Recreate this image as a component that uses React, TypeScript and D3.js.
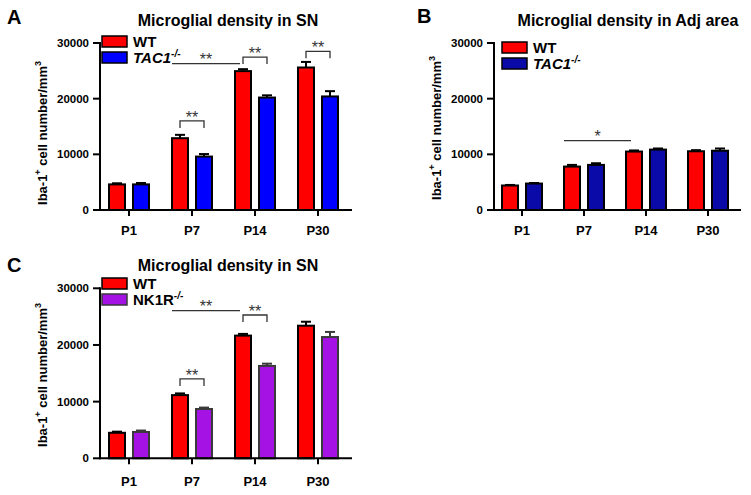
import React from "react";
import * as d3 from "d3";

const categories = ["P1", "P7", "P14", "P30"];
const yTicks = [0, 10000, 20000, 30000];

const wtA = [4600, 12900, 24950, 25600];
const wtAErr = [200, 600, 350, 1000];
const koA = [4600, 9600, 20200, 20400];
const koAErr = [250, 450, 400, 950];

const wtB = [4400, 7800, 10500, 10550];
const wtBErr = [100, 300, 200, 200];
const koB = [4750, 8100, 10850, 10650];
const koBErr = [100, 300, 200, 400];

const wtC = [4500, 11150, 21650, 23400];
const wtCErr = [200, 300, 300, 700];
const koC = [4650, 8700, 16300, 21400];
const koCErr = [250, 250, 400, 900];

// significance annotations: [category(from), category(to), y value, label]
const sigLinesA = [["P7", "P14", 26280, "**"]];
const bracketsA = [["P7", 16000, "**"], ["P14", 27480, "**"], ["P30", 28510, "**"]];
const sigLinesB = [["P7", "P14", 12450, "*"]];
const bracketsB: any[] = [];
const sigLinesC = [["P7", "P14", 26050, "**"]];
const bracketsC = [["P7", 14000, "**"], ["P14", 25290, "**"]];

const FONT = "'Liberation Sans', Arial, Helvetica, sans-serif";

type PanelProps = {
  letter: string;
  letterX: number;
  letterY: number;
  title: string;
  titleX: number;
  titleY: number;
  axisX: number;
  axisEnd: number;
  bandRange: [number, number];
  y0: number;
  yTop: number;
  wt: number[];
  wtErr: number[];
  ko: number[];
  koErr: number[];
  koColor: string;
  koStroke: string;
  koLabel: string;
  koItalic: boolean;
  legendX: number;
  legendY: number;
  ylabelX: number;
  ylabelY: number;
  xLabelY: number;
  sigLines: any[];
  brackets: any[];
};

function Panel(p: PanelProps) {
  const x = d3.scaleBand<string>().domain(categories).range(p.bandRange);
  const y = d3.scaleLinear().domain([0, 30000]).range([p.y0, p.yTop]);
  const c = (k: string) => (x(k) as number) + x.bandwidth() / 2;
  const off = 12;
  const bw = 16;
  const series = [
    { vals: p.wt, errs: p.wtErr, fill: "#ff0000", stroke: "#000", dx: -off },
    { vals: p.ko, errs: p.koErr, fill: p.koColor, stroke: p.koStroke, dx: off },
  ];
  return (
    <g>
      <text x={p.letterX} y={p.letterY} fontSize={20} fontWeight="bold" fontFamily={FONT}>
        {p.letter}
      </text>
      <text x={p.titleX} y={p.titleY} fontSize={16} fontWeight="bold" textAnchor="middle" fontFamily={FONT}>
        {p.title}
      </text>
      {/* bars */}
      {series.map((s, si) =>
        categories.map((cat, i) => {
          const cx = c(cat) + s.dx;
          const top = y(s.vals[i]);
          const et = y(s.vals[i] + s.errs[i]);
          return (
            <g key={si + "-" + i}>
              <line x1={cx} x2={cx} y1={top} y2={et} stroke={s.stroke} strokeWidth={2} />
              <line x1={cx - 5} x2={cx + 5} y1={et} y2={et} stroke={s.stroke} strokeWidth={2} />
              <rect x={cx - bw / 2} y={top} width={bw} height={p.y0 - top} fill={s.fill} stroke={s.stroke} strokeWidth={2} />
            </g>
          );
        })
      )}
      {/* y axis */}
      <line x1={p.axisX} x2={p.axisX} y1={y(30000) - 1} y2={p.y0 + 1} stroke="#000" strokeWidth={2} />
      {yTicks.map((t) => (
        <g key={t}>
          <line x1={p.axisX - 7} x2={p.axisX} y1={y(t)} y2={y(t)} stroke="#000" strokeWidth={2} />
          <text x={p.axisX - 11} y={y(t) + 4} fontSize={11.5} fontWeight="bold" textAnchor="end" fontFamily={FONT}>
            {t}
          </text>
        </g>
      ))}
      {/* x axis */}
      <line x1={p.axisX - 1} x2={p.axisEnd} y1={p.y0} y2={p.y0} stroke="#000" strokeWidth={2} />
      {categories.map((cat) => (
        <g key={cat}>
          <line x1={c(cat)} x2={c(cat)} y1={p.y0} y2={p.y0 + 6} stroke="#000" strokeWidth={2} />
          <text x={c(cat)} y={p.xLabelY} fontSize={13} fontWeight="bold" textAnchor="middle" fontFamily={FONT}>
            {cat}
          </text>
        </g>
      ))}
      {/* y label */}
      <text
        transform={`translate(${p.ylabelX},${p.ylabelY}) rotate(-90)`}
        fontSize={13}
        fontWeight="bold"
        textAnchor="middle"
        fontFamily={FONT}
      >
        Iba-1
        <tspan fontSize={9} dy={-6}>+</tspan>
        <tspan dy={6}> cell number/mm</tspan>
        <tspan fontSize={9} dy={-6}>3</tspan>
      </text>
      {/* legend */}
      <rect x={p.legendX} y={p.legendY} width={25} height={11} fill="#ff0000" stroke="#000" strokeWidth={1.5} />
      <rect x={p.legendX} y={p.legendY + 16} width={25} height={11} fill={p.koColor} stroke={p.koStroke} strokeWidth={1.5} />
      <text x={p.legendX + 31} y={p.legendY + 11} fontSize={15} fontWeight="bold" fontFamily={FONT}>
        WT
      </text>
      <text x={p.legendX + 31} y={p.legendY + 27} fontSize={15} fontWeight="bold" fontFamily={FONT} fontStyle={p.koItalic ? "italic" : "normal"}>
        {p.koLabel}
        <tspan fontSize={10} dy={-6} fontStyle="italic">-/-</tspan>
      </text>
      {/* significance */}
      {p.sigLines.map((s, i) => {
        const x1 = c(s[0]) - off - 8;
        const x2 = c(s[1]) - off - 3;
        const yy = y(s[2]);
        return (
          <g key={"l" + i}>
            <line x1={x1} x2={x2} y1={yy} y2={yy} stroke="#333" strokeWidth={1.3} />
            <text x={(x1 + x2) / 2} y={yy + 1} fontSize={16} textAnchor="middle" fill="#333" fontFamily={FONT}>
              {s[3]}
            </text>
          </g>
        );
      })}
      {p.brackets.map((s, i) => {
        const x1 = c(s[0]) - off;
        const x2 = c(s[0]) + off;
        const yy = y(s[1]);
        return (
          <g key={"b" + i}>
            <path d={`M${x1},${yy + 7}V${yy}H${x2}V${yy + 7}`} fill="none" stroke="#333" strokeWidth={1.3} />
            <text x={(x1 + x2) / 2} y={yy + 2} fontSize={16} textAnchor="middle" fill="#333" fontFamily={FONT}>
              {s[2]}
            </text>
          </g>
        );
      })}
    </g>
  );
}

export default function App() {
  return (
    <div style={{ position: "absolute", left: 0, top: 0 }}>
      <svg width={751} height={495} style={{ display: "block", background: "#fff" }}>
        <Panel
          letter="A" letterX={7} letterY={24}
          title="Microglial density in SN" titleX={228} titleY={26}
          axisX={100} axisEnd={352} bandRange={[97.5, 349.5]} y0={210} yTop={43}
          wt={wtA} wtErr={wtAErr} ko={koA} koErr={koAErr}
          koColor="#0000ff" koStroke="#000" koLabel="TAC1" koItalic={true}
          legendX={102} legendY={36}
          ylabelX={47} ylabelY={133} xLabelY={235}
          sigLines={sigLinesA} brackets={bracketsA}
        />
        <Panel
          letter="B" letterX={417} letterY={23}
          title="Microglial density in Adj area" titleX={628} titleY={26}
          axisX={494} axisEnd={741} bandRange={[491, 739]} y0={210} yTop={43}
          wt={wtB} wtErr={wtBErr} ko={koB} koErr={koBErr}
          koColor="#0a0aa8" koStroke="#000" koLabel="TAC1" koItalic={true}
          legendX={502} legendY={42}
          ylabelX={441} ylabelY={128} xLabelY={235}
          sigLines={sigLinesB} brackets={bracketsB}
        />
        <Panel
          letter="C" letterX={7} letterY={272}
          title="Microglial density in SN" titleX={228} titleY={271}
          axisX={100} axisEnd={352} bandRange={[97.5, 349.5]} y0={458.3} yTop={288.3}
          wt={wtC} wtErr={wtCErr} ko={koC} koErr={koCErr}
          koColor="#a412e4" koStroke="#3a3a3a" koLabel="NK1R" koItalic={false}
          legendX={102} legendY={278}
          ylabelX={47} ylabelY={375} xLabelY={486}
          sigLines={sigLinesC} brackets={bracketsC}
        />
      </svg>
    </div>
  );
}
